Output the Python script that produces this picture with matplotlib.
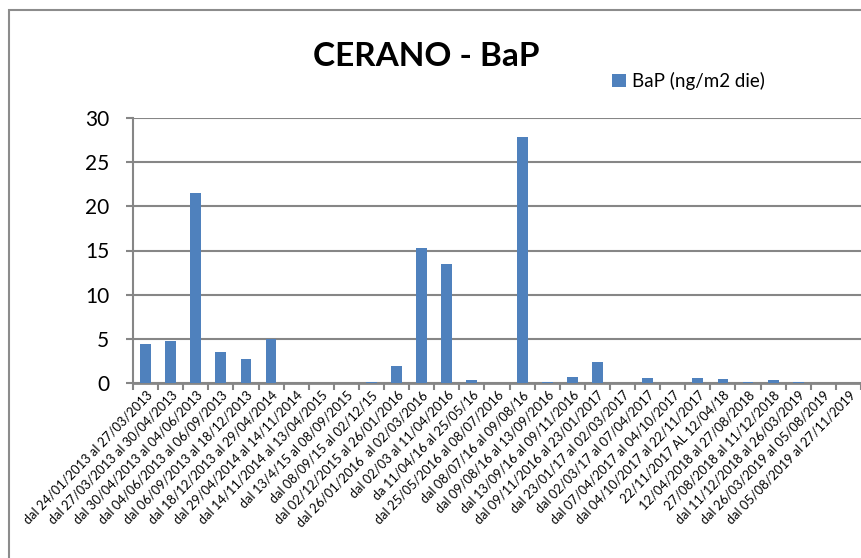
import numpy as np
import matplotlib.pyplot as plt
from matplotlib.patches import Rectangle

# periodi di campionamento
periodi = [
    "dal 24/01/2013 al 27/03/2013",
    "dal 27/03/2013 al 30/04/2013",
    "dal 30/04/2013 al 04/06/2013",
    "dal 04/06/2013 al 06/09/2013",
    "dal 06/09/2013 al 18/12/2013",
    "dal 18/12/2013 al 29/04/2014",
    "dal 29/04/2014 al 14/11/2014",
    "dal 14/11/2014 al 13/04/2015",
    "dal 13/4/15 al 08/09/2015",
    "dal 08/09/15 al 02/12/15",
    "dal 02/12/2015 al 26/01/2016",
    "dal 26/01/2016  al 02/03/2016",
    "dal 02/03 al 11/04/2016",
    "da 11/04/16 al 25/05/16",
    "dal 25/05/2016 al 08/07/2016",
    "dal 08/07/16 al 09/08/16",
    "dal 09/08/16 al 13/09/2016",
    "dal 13/09/16 al 09/11/2016",
    "dal 09/11/2016 al 23/01/2017",
    "dal 23/01/17 al 02/03/2017",
    "dal 02/03/17 al 07/04/2017",
    "dal 07/04/2017 al 04/10/2017",
    "dal 04/10/2017 al 22/11/2017",
    "22/11/2017 AL 12/04/18",
    "12/04/2018 al 27/08/2018",
    "27/08/2018 al 11/12/2018",
    "dal 11/12/2018 al 26/03/2019",
    "dal 26/03/2019 al 05/08/2019",
    "dal 05/08/2019 al 27/11/2019",
]

# BaP (ng/m2 die)
bap = [4.4, 4.8, 21.5, 3.5, 2.7, 5.0, 0.03, 0.03, 0.03, 0.2,
       1.9, 15.3, 13.5, 0.35, 0.03, 27.8, 0.18, 0.75, 2.4, 0.03,
       0.6, 0.03, 0.6, 0.5, 0.2, 0.35, 0.2, 0.03, 0.03]

plt.rcParams['font.family'] = ['Lato', 'DejaVu Sans']

fig = plt.figure(figsize=(8.61, 5.58), dpi=100)

# cornice del grafico (esce dal bordo a destra e in basso)
fig.patches.append(Rectangle((9/861, -0.05), 1.0, 1 - 10/558 + 0.05,
                             transform=fig.transFigure, fill=False,
                             edgecolor='#8c8c8c', linewidth=1.5))

ax = fig.add_axes([133/861, 1 - 383.3/558, (861 - 133)/861, (383.3 - 117.7)/558])

x = np.arange(len(periodi))
ax.bar(x, bap, width=0.43, color='#4F81BD', zorder=3, label='BaP (ng/m2 die)')

ax.set_xlim(-0.5, len(periodi) - 0.5)
ax.set_ylim(0, 30)
ax.set_yticks(range(0, 31, 5))
ax.yaxis.grid(True, color='#868686', linewidth=1.5, zorder=0)

ax.set_xticks(x)
ax.set_xticklabels(periodi, rotation=46, ha='right', va='top',
                   rotation_mode='anchor', fontsize=9.3)
ax.tick_params(axis='x', which='major', length=0, pad=4)
ax.set_xticks(np.arange(-0.5, len(periodi), 1), minor=True)
ax.tick_params(axis='x', which='minor', length=5, width=1.5, color='#868686')
ax.tick_params(axis='y', length=5, width=1.5, color='#868686', labelsize=15, pad=12)

for s in ['top', 'right']:
    ax.spines[s].set_visible(False)
ax.spines['left'].set_color('#868686')
ax.spines['left'].set_linewidth(1.5)
ax.spines['bottom'].set_color('#868686')
ax.spines['bottom'].set_linewidth(2)

fig.text(426/861, 1 - 57/558, "CERANO - BaP", ha='center', va='center',
         fontsize=24, fontweight='bold')

fig.legend(loc='center left', bbox_to_anchor=(604/861, 1 - 81/558),
           frameon=False, fontsize=13.5, handlelength=0.75, handleheight=0.75,
           handletextpad=0.35, borderaxespad=0)

plt.savefig("out.png", dpi=100)
